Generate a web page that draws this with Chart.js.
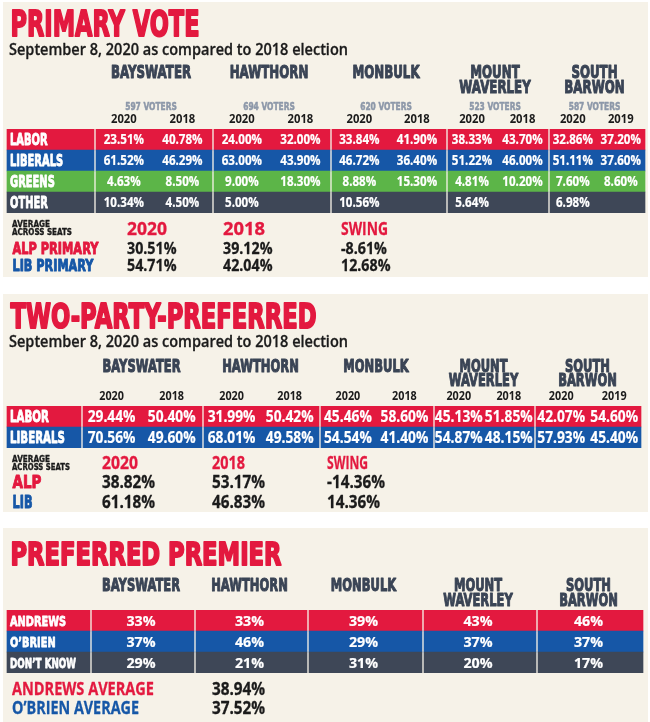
<!DOCTYPE html>
<html><head><meta charset="utf-8">
<script src="https://cdn.jsdelivr.net/npm/chart.js@4.4.1/dist/chart.umd.min.js"></script>
<style>
html,body{margin:0;padding:0;background:#fff;}
#wrap{position:relative;width:650px;height:722px;overflow:hidden;background:#fff;}
.panel{position:absolute;left:3px;width:645px;background:#f6f2e8;}
canvas{position:absolute;left:0;top:0;}
</style></head><body>
<div id="wrap">
<div class="panel" style="top:2px;height:275px"></div>
<div class="panel" style="top:294px;height:218px"></div>
<div class="panel" style="top:528px;height:194px"></div>
<canvas id="c1" width="650" height="722"></canvas>
<canvas id="c2" width="650" height="722"></canvas>
<canvas id="c3" width="650" height="722"></canvas>
</div>
<script>
// ---------------- DATA ----------------
const seats = ['BAYSWATER','HAWTHORN','MONBULK','MOUNT WAVERLEY','SOUTH BARWON'];
const subtitle = 'September 8, 2020 as compared to 2018 election';
const yearLabels = [['2020','2018'],['2020','2018'],['2020','2018'],['2020','2018'],['2020','2019']];
const avgCaption = ['AVERAGE','ACROSS SEATS'];
const avgHeads = ['2020','2018','SWING'];

const primaryTitle = 'PRIMARY VOTE';
const primaryVoters = ['597 VOTERS','694 VOTERS','620 VOTERS','523 VOTERS','587 VOTERS'];
const primaryRows = ['LABOR','LIBERALS','GREENS','OTHER'];
const primaryLabor    = [[23.51,40.78],[24.00,32.00],[33.84,41.90],[38.33,43.70],[32.86,37.20]];
const primaryLiberals = [[61.52,46.29],[63.00,43.90],[46.72,36.40],[51.22,46.00],[51.11,37.60]];
const primaryGreens   = [[4.63,8.50],[9.00,18.30],[8.88,15.30],[4.81,10.20],[7.60,8.60]];
const primaryOther    = [[10.34,4.50],[5.00,null],[10.56,null],[5.64,null],[6.98,null]];
const primaryAvgRows = ['ALP PRIMARY','LIB PRIMARY'];
const primaryAvgALP = [30.51,39.12,-8.61];
const primaryAvgLIB = [54.71,42.04,12.68];

const tppTitle = 'TWO-PARTY-PREFERRED';
const tppRows = ['LABOR','LIBERALS'];
const tppLabor    = [[29.44,50.40],[31.99,50.42],[45.46,58.60],[45.13,51.85],[42.07,54.60]];
const tppLiberals = [[70.56,49.60],[68.01,49.58],[54.54,41.40],[54.87,48.15],[57.93,45.40]];
const tppAvgRows = ['ALP','LIB'];
const tppAvgALP = [38.82,53.17,-14.36];
const tppAvgLIB = [61.18,46.83,14.36];

const premierTitle = 'PREFERRED PREMIER';
const premierRows = ['ANDREWS','O\u2019BRIEN','DON\u2019T KNOW'];
const premierAndrews  = [33,33,39,43,46];
const premierOBrien   = [37,46,29,37,37];
const premierDontKnow = [29,21,31,20,17];
const premierAvgRows = ['ANDREWS AVERAGE','O\u2019BRIEN AVERAGE'];
const premierAvg = [38.94,37.52];

// ---------------- STYLE / LAYOUT ----------------
const W = 650, H = 722;
const C = {red:'#e3193f', blue:'#1657a7', green:'#5cb548', slate:'#3e4757', head:'#3a4455',
           voters:'#8d98a9', ink:'#1b1b1b', white:'#ffffff'};
const HV = s => `bold ${s}px "DejaVu Sans"`;
const OS = (s, w = 700) => `${w} ${s}px "Open Sans"`;
const FR = [0.24, 0.745];
const pct2 = v => v == null ? '' : v.toFixed(2) + '%';
const pct0 = v => v + '%';

function txt(ctx, s, x, y, o) {
  ctx.save();
  ctx.font = o.font; ctx.fillStyle = o.color; ctx.textBaseline = 'alphabetic'; ctx.textAlign = 'left';
  const nat = ctx.measureText(s).width;
  const sx = o.w ? o.w / nat : (o.sx || 1);
  const w = nat * sx;
  let left = x;
  if (o.align === 'center') left = x - w / 2; else if (o.align === 'right') left = x - w;
  ctx.translate(left, y); ctx.scale(sx, 1); ctx.fillText(s, 0, 0);
  if (o.stroke) { ctx.strokeStyle = o.color; ctx.lineWidth = o.stroke; ctx.lineJoin = 'round'; ctx.strokeText(s, 0, 0); }
  ctx.restore();
}

function cell(chart, ci, ri) {
  const el = chart.getDatasetMeta(ci).data[ri];
  return {x0: Math.min(el.base, el.x), x1: Math.max(el.base, el.x), y: el.y, h: el.height};
}

function makeTable(id, rows, rowColors, L, textFn) {
  const edges = []; let x = L.x0;
  L.widths.forEach(w => { edges.push([x, x + w]); x += w + L.gap; });
  const datasets = edges.map((e, ci) => ({
    label: ci === 0 ? 'row' : seats[ci - 1],
    data: rows.map(() => [e[0], e[1]]),
    backgroundColor: rowColors, borderWidth: 0, grouped: false,
    barPercentage: 1, categoryPercentage: 1
  }));
  return new Chart(document.getElementById(id), {
    type: 'bar',
    data: {labels: rows, datasets},
    options: {
      indexAxis: 'y', responsive: false, animation: false, events: [],
      layout: {padding: {top: L.top, bottom: H - L.bottom, left: 0, right: 0}},
      scales: {x: {type: 'linear', min: 0, max: W, display: false}, y: {type: 'category', display: false}},
      plugins: {legend: {display: false}, tooltip: {enabled: false}}
    },
    plugins: [{id: 'txt' + id, afterDraw(chart) { textFn(chart, chart.ctx); }}]
  });
}

function seatHeaders(chart, ctx, base, lineGap, dx, size) {
  seats.forEach((s, i) => {
    const c = cell(chart, i + 1, 0); const cx = (c.x0 + c.x1) / 2 + dx;
    s.split(' ').forEach((ln, k) => txt(ctx, ln, cx, base + k * lineGap, {font: HV(size), color: C.head, sx: 0.64, align: 'center', stroke: 1.1}));
  });
}
function yearRow(chart, ctx, base, size) {
  seats.forEach((s, i) => {
    const c = cell(chart, i + 1, 0);
    yearLabels[i].forEach((y, k) => txt(ctx, y, c.x0 + (c.x1 - c.x0) * FR[k], base, {font: OS(size), color: C.ink, sx: 0.9, align: 'center'}));
  });
}
function pairCells(chart, ctx, rows, vals, labSize, labSx, valSize, valSx) {
  rows.forEach((r, ri) => {
    const c0 = cell(chart, 0, ri);
    txt(ctx, r, 10, c0.y + labSize * 0.729 / 2, {font: HV(labSize), color: C.white, sx: labSx, stroke: 0.9});
    seats.forEach((s, i) => {
      const c = cell(chart, i + 1, ri);
      vals[ri][i].forEach((v, k) => {
        if (v == null) return;
        txt(ctx, pct2(v), c.x0 + (c.x1 - c.x0) * FR[k], c.y + valSize * 0.714 / 2,
            {font: OS(valSize), color: C.white, sx: valSx, align: 'center', stroke: 0.2});
      });
    });
  });
}

// ---------------- PANEL 1: PRIMARY VOTE ----------------
makeTable('c1', primaryRows, [C.red, C.blue, C.green, C.slate],
  {top: 129, bottom: 213, x0: 7, widths: [87, 116, 116, 114, 100, 95], gap: 2},
  (chart, ctx) => {
    txt(ctx, primaryTitle, 10.5, 36, {font: HV(36), color: C.red, w: 189, stroke: 2});
    txt(ctx, subtitle, 9, 54.5, {font: OS(16, 600), color: C.ink, w: 339, stroke: 0.3});
    seatHeaders(chart, ctx, 77.5, 15, -3, 18.5);
    seats.forEach((s, i) => {
      const c = cell(chart, i + 1, 0);
      txt(ctx, primaryVoters[i], (c.x0 + c.x1) / 2 - 3, 110, {font: HV(11), color: C.voters, sx: 0.68, align: 'center', stroke: 0.6});
    });
    yearRow(chart, ctx, 123, 12.5);
    pairCells(chart, ctx, primaryRows, [primaryLabor, primaryLiberals, primaryGreens, primaryOther], 15.5, 0.64, 13.5, 0.86);
    txt(ctx, avgCaption[0], 12, 226.7, {font: HV(9), color: C.ink, w: 38, stroke: 0.4});
    txt(ctx, avgCaption[1], 12, 235, {font: HV(9), color: C.ink, w: 60, stroke: 0.4});
    const ax = [127, 223, 341], aw = [40, 42, 47];
    avgHeads.forEach((h, k) => txt(ctx, h, ax[k], 235, {font: OS(18), color: C.red, w: aw[k], stroke: 0.3}));
    txt(ctx, primaryAvgRows[0], 12.5, 253.5, {font: HV(16), color: C.red, w: 86, stroke: 1});
    txt(ctx, primaryAvgRows[1], 12.5, 271, {font: HV(16), color: C.blue, w: 81, stroke: 1});
    primaryAvgALP.forEach((v, k) => txt(ctx, pct2(v), ax[k], 254, {font: OS(16), color: C.ink, sx: 0.89, stroke: 0.3}));
    primaryAvgLIB.forEach((v, k) => txt(ctx, pct2(v), ax[k], 271, {font: OS(16), color: C.ink, sx: 0.89, stroke: 0.3}));
  });

// ---------------- PANEL 2: TWO-PARTY-PREFERRED ----------------
makeTable('c2', tppRows, [C.red, C.blue],
  {top: 406, bottom: 448, x0: 7, widths: [74, 119, 115, 112, 99, 105], gap: 2},
  (chart, ctx) => {
    txt(ctx, tppTitle, 10.5, 328.3, {font: HV(34.3), color: C.red, w: 306, stroke: 2});
    txt(ctx, subtitle, 9, 346.5, {font: OS(16, 600), color: C.ink, w: 339, stroke: 0.3});
    seatHeaders(chart, ctx, 372, 13.5, -1, 18);
    yearRow(chart, ctx, 400, 12);
    pairCells(chart, ctx, tppRows, [tppLabor, tppLiberals], 16, 0.64, 16, 0.86);
    txt(ctx, avgCaption[0], 12, 461.5, {font: HV(9), color: C.ink, w: 38, stroke: 0.4});
    txt(ctx, avgCaption[1], 12, 470, {font: HV(9), color: C.ink, w: 58, stroke: 0.4});
    const ax = [102, 212, 327], aw = [36, 33, 41];
    avgHeads.forEach((h, k) => txt(ctx, h, ax[k], 468.5, {font: OS(17.5), color: C.red, w: aw[k], stroke: 0.3}));
    txt(ctx, tppAvgRows[0], 12.5, 488, {font: HV(18), color: C.red, w: 29, stroke: 1});
    txt(ctx, tppAvgRows[1], 12.5, 507.5, {font: HV(18), color: C.blue, w: 20, stroke: 1});
    tppAvgALP.forEach((v, k) => txt(ctx, pct2(v), ax[k], 488, {font: OS(18), color: C.ink, sx: 0.85, stroke: 0.3}));
    tppAvgLIB.forEach((v, k) => txt(ctx, pct2(v), ax[k], 507.5, {font: OS(18), color: C.ink, sx: 0.85, stroke: 0.3}));
  });

// ---------------- PANEL 3: PREFERRED PREMIER ----------------
makeTable('c3', premierRows, [C.red, C.blue, C.slate],
  {top: 610, bottom: 673, x0: 7, widths: [83, 102, 111, 113, 112, 105], gap: 2},
  (chart, ctx) => {
    txt(ctx, premierTitle, 10.5, 565, {font: HV(32), color: C.red, w: 271, stroke: 2});
    seatHeaders(chart, ctx, 591, 15, -2, 18);
    const vals = [premierAndrews, premierOBrien, premierDontKnow];
    premierRows.forEach((r, ri) => {
      const c0 = cell(chart, 0, ri);
      txt(ctx, r, 10, c0.y + 5.1, {font: HV(14), color: C.white, sx: r.length > 8 ? 0.63 : 0.7, stroke: 0.8});
      seats.forEach((s, i) => {
        const c = cell(chart, i + 1, ri);
        txt(ctx, pct0(vals[ri][i]), (c.x0 + c.x1) / 2 - 2, c.y + 5.4, {font: OS(15), color: C.white, sx: 0.95, align: 'center', stroke: 0.2});
      });
    });
    txt(ctx, premierAvgRows[0], 12, 695, {font: OS(17), color: C.red, w: 142, stroke: 0.3});
    txt(ctx, premierAvgRows[1], 12, 714, {font: OS(17), color: C.blue, w: 127, stroke: 0.3});
    premierAvg.forEach((v, k) => txt(ctx, pct2(v), 212, 695 + k * 19, {font: OS(17), color: C.ink, sx: 0.9, stroke: 0.3}));
  });
</script>
</body></html>
